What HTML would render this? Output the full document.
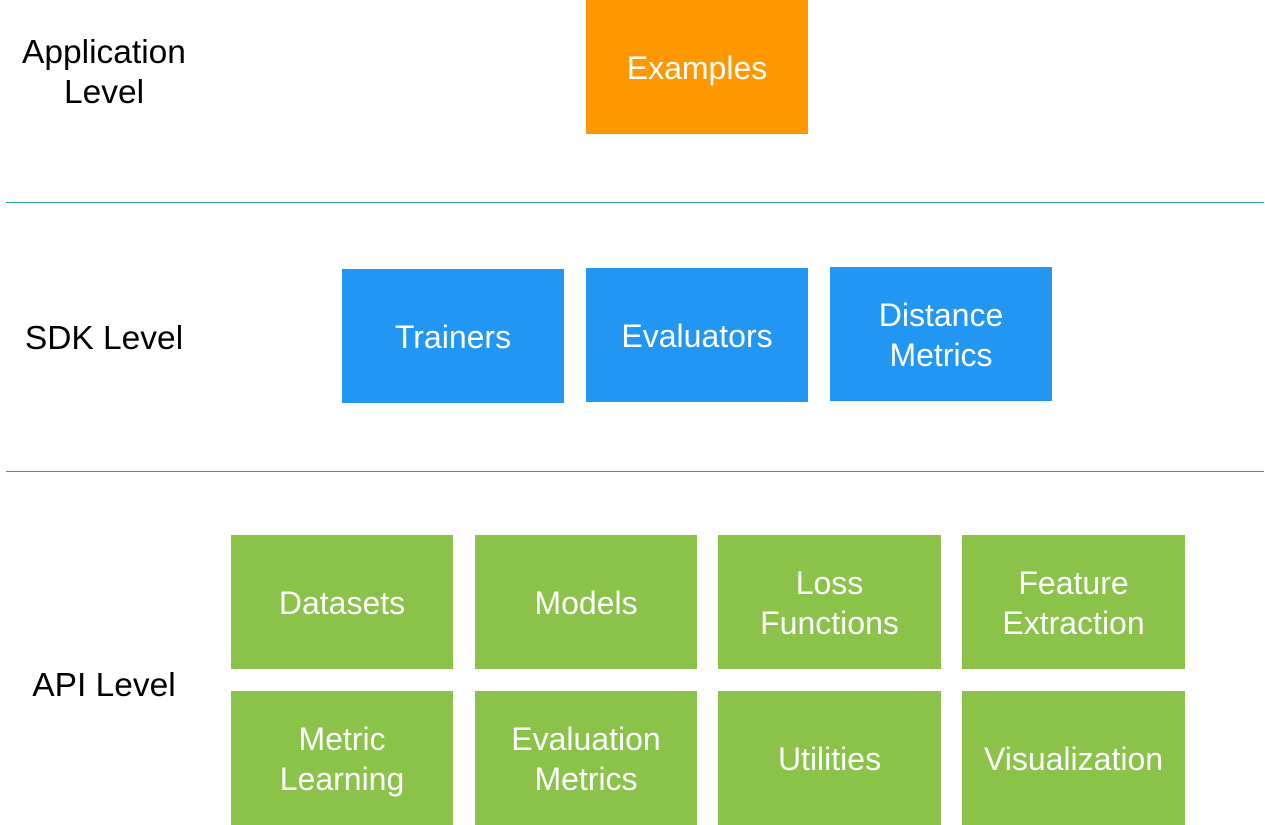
<!DOCTYPE html>
<html><head><style>
body{margin:0;width:1265px;height:825px;background:#fff;position:relative;overflow:hidden;font-family:"Liberation Sans",sans-serif}
.b{position:absolute;display:flex;align-items:center;justify-content:center;text-align:center;color:#fff;font-size:32px;line-height:40px;width:222px;height:134px;padding-top:2px;box-sizing:border-box}
.o{background:#FF9800}.bl{background:#2196F3}.g{background:#8BC34A}
.l{position:absolute;color:#000;font-size:33.5px;line-height:40px;text-align:center;width:210px}
.hr{position:absolute;left:6px;width:1258px;height:1px;background:#26A69A}
</style></head><body>
<div class="l" style="left:-1px;top:33px">Application<br>Level</div>
<div class="l" style="left:-1px;top:319px">SDK Level</div>
<div class="l" style="left:-1px;top:666px">API Level</div>
<div class="hr" style="top:202px"></div>
<div class="hr" style="top:471px"></div>
<div class="b o" style="left:586px;top:0">Examples</div>
<div class="b bl" style="left:342px;top:269px">Trainers</div>
<div class="b bl" style="left:586px;top:268px">Evaluators</div>
<div class="b bl" style="left:830px;top:267px">Distance<br>Metrics</div>
<div class="b g" style="left:231px;top:535px">Datasets</div>
<div class="b g" style="left:475px;top:535px">Models</div>
<div class="b g" style="left:718px;top:535px;width:223px">Loss<br>Functions</div>
<div class="b g" style="left:962px;top:535px;width:223px">Feature<br>Extraction</div>
<div class="b g" style="left:231px;top:691px">Metric<br>Learning</div>
<div class="b g" style="left:475px;top:691px">Evaluation<br>Metrics</div>
<div class="b g" style="left:718px;top:691px;width:223px">Utilities</div>
<div class="b g" style="left:962px;top:691px;width:223px">Visualization</div>
</body></html>
